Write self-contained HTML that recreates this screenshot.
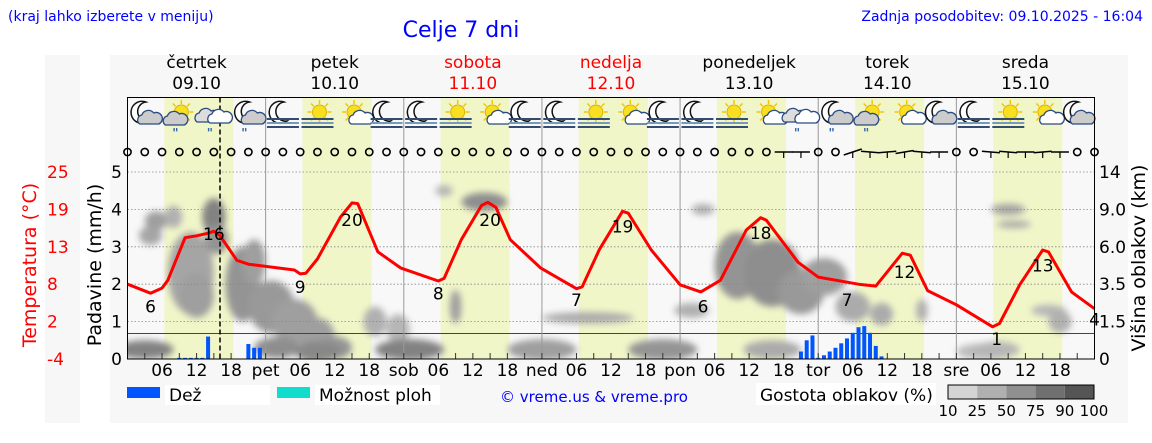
<!DOCTYPE html>
<html><head><meta charset="utf-8"><style>
body{margin:0;background:#fff;width:1152px;height:443px;overflow:hidden;font-family:"Liberation Sans","DejaVu Sans",sans-serif}
svg{position:absolute;left:0;top:0}
text{font-family:"DejaVu Sans","Liberation Sans",sans-serif}
</style></head><body>
<svg id="chart" width="1152" height="443" viewBox="0 0 1152 443" xmlns="http://www.w3.org/2000/svg">
<defs>
<filter id="blur" x="-50%" y="-50%" width="200%" height="200%"><feGaussianBlur stdDeviation="3.5"/></filter>
<clipPath id="plotclip"><rect x="127.5" y="162" width="967" height="197"/></clipPath>
</defs>
<rect x="45" y="55" width="35" height="368" fill="#f7f7f7"/>
<rect x="110" y="55" width="1018" height="368" fill="#f7f7f7"/>
<text x="8" y="21" fill="#0000ff" font-size="14" font-family="Liberation Sans">(kraj lahko izberete v meniju)</text>
<text x="461" y="37" fill="#0000ff" font-size="22" text-anchor="middle" font-family="Liberation Sans">Celje 7 dni</text>
<text x="1143" y="21" fill="#0000ff" font-size="14" text-anchor="end" font-family="Liberation Sans">Zadnja posodobitev: 09.10.2025 - 16:04</text>
<g id="plot"></g>
<text transform="translate(36,265) rotate(-90)" fill="#ff0000" font-size="19" text-anchor="middle">Temperatura (°C)</text>
<text transform="translate(101,265) rotate(-90)" fill="#000" font-size="19" text-anchor="middle">Padavine (mm/h)</text>
<text transform="translate(1145,258) rotate(-90)" fill="#000" font-size="19" text-anchor="middle">Višina oblakov (km)</text>
<g>
<rect x="127" y="387" width="33" height="11" fill="#0055ff"/>
<rect x="165" y="385" width="105" height="20" fill="#fff"/>
<text x="169" y="401" font-size="17">Dež</text>
<rect x="277" y="387" width="33" height="11" fill="#11ddcc"/>
<rect x="315" y="385" width="125" height="20" fill="#fff"/>
<text x="319" y="401" font-size="17">Možnost ploh</text>
<text x="500" y="402" font-size="15" fill="#0000ff" font-family="Liberation Sans">© vreme.us &amp; vreme.pro</text>
<rect x="756" y="383" width="180" height="22" fill="#fff"/>
<text x="760" y="401" font-size="17">Gostota oblakov (%)</text>
<g id="cbar"></g>
</g>
</svg>
<script>
// ---- data ----
const dayNames=["četrtek","petek","sobota","nedelja","ponedeljek","torek","sreda"];
const dayDates=["09.10","10.10","11.10","12.10","13.10","14.10","15.10"];
const dayShort=["","pet","sob","ned","pon","tor","sre"];
const weekend=[false,false,true,true,false,false,false];
const tempHours=[0,4,6,7,10,12,14,15,16,19,21,29,30,31,33,37,39,40,43.5,47.5,54,55,58,61.5,62.6,64,66.5,71.8,78,79,82,86,87,91,96,99.6,103,107.5,110,111,116.5,120,127,130,134.6,136,139,144,150.3,151.5,155,159,160,164,168];
const tempValues=[7.6,6.2,7.0,8.2,14.8,15.1,15.5,15.8,15.2,11.3,10.7,9.8,9.2,9.3,11.5,18,20.2,20.1,12.6,10.1,8.1,8.5,14.5,19.8,20.3,19.5,14.5,10.1,6.9,7.2,13,18.9,18.6,12.9,7.5,6.4,8.2,16,17.9,17.5,11,8.7,7.6,7.3,12.4,12.1,6.6,4.4,1.0,1.5,7.5,12.9,12.6,6.4,3.8];
const tempLabels=[[4,6],[15,16],[30,9],[39,20],[54,8],[63,20],[78,7],[86,19],[100,6],[110,18],[125,7],[135,12],[151,1],[159,13],[168,4]];
const rainHours=[9,10,11,12,13,14,21,22,23,117,118,119,120,121,122,123,124,125,126,127,128,129,130,131];
const rainValues=[0.03,0.03,0.03,0.03,0.03,0.6,0.4,0.3,0.3,0.2,0.5,0.63,0.03,0.1,0.2,0.3,0.42,0.55,0.7,0.85,0.88,0.7,0.35,0.07];
const iconTypes=["moonCloud","sunCloudRain","cloudRain","moonCloudRain","moonFog","sunFog","sunCloud","moonFog","moonFog","sunFog","sunCloud","moonFog","moonFog","sunFog","sunCloud","moonFog","moonFog","sunFog","sunCloud","cloudRain","moonCloudRain","sunCloudRain","sunCloud","moonCloud","moonFog","sunFog","sunCloud","moonCloud"];
const windHours=[114,117,126,129,132,135,138,141,150,153,156,159,162];
const windDirs=[0,0,-20,5,-5,-10,5,0,5,5,0,-5,0];
const cloudHour=[4,5,8,11,12,15,15.5,20,22,25,29,33,36,43,47,55,62,57,80,98,100,106,112,117,121,126,131,138,153,154,160,162,3,26,33,49,72,93,112,149,151];
const cloudLevel=[3.3,3.7,3.8,2.3,1.7,3.8,3.2,2.0,2.6,1.4,1.0,0.6,0.3,1.0,0.8,4.5,4.2,1.4,1.1,1.3,4.0,2.5,2.3,1.8,2.2,1.4,1.2,1.3,4.0,3.6,1.3,1.0,0.25,0.3,0.2,0.25,0.25,0.25,0.25,0.2,0.25];
const cloudWidth=[2,2,1.5,4,3,2,2,3,2,4,4,3,3,2,2,1.5,4,1,8,3,2,4,5,4,4,3,2,1,3,3,3,2,5,4,4,6,6,6,5,5,4];
const cloudHeight=[0.25,0.25,0.3,1.1,0.6,0.5,0.4,1.0,0.6,0.7,0.6,0.5,0.3,0.4,0.4,0.15,0.25,0.45,0.15,0.2,0.15,0.9,0.9,0.6,0.5,0.4,0.3,0.3,0.15,0.1,0.15,0.3,0.25,0.28,0.28,0.28,0.28,0.28,0.25,0.22,0.22];
const cloudDensity=[55,60,45,55,60,85,70,70,60,65,60,60,70,45,40,40,75,60,50,45,45,70,75,65,60,50,50,45,55,50,40,45,85,75,80,85,60,70,50,35,40];
const precipTicks=[0,1,2,3,4,5];
const tempTicks=[25,19,13,8,2,-4];
const cloudTicks=["14","9.0","6.0","3.5","1.5","0"];
const cbarLabels=["10","25","50","75","90","100"];

// ---- axes ----
const X0=127.5,X1=1094.5,PX=(X1-X0)/168;
const xH=h=>X0+h*PX;
const yP=v=>359-v*37.4;
const yT=t=>359-(t+4)*6.45;
const NS="http://www.w3.org/2000/svg";
const plot=document.getElementById('plot');
function mk(tag,attrs,parent){const e=document.createElementNS(NS,tag);for(const k in attrs)e.setAttribute(k,attrs[k]);(parent||plot).appendChild(e);return e;}

mk('rect',{x:X0,y:97.5,width:X1-X0,height:261.5,fill:'#f8f8f8'});
for(let d=0;d<7;d++){
  const b=mk('rect',{x:xH(d*24+6.4),y:97.5,width:12*PX,height:261.5,fill:'#f1f6c9'});
  
  
}
const cg=mk('g',{'clip-path':'url(#plotclip)',filter:'url(#blur)'});
for(let i=0;i<cloudHour.length;i++){
  const g=Math.round(228-cloudDensity[i]*1.15);
  const e=mk('ellipse',{cx:xH(cloudHour[i]),cy:yP(cloudLevel[i]),rx:cloudWidth[i]*PX,ry:cloudHeight[i]*37.4,fill:`rgb(${g},${g},${g})`},cg);
  
  
}
for(const v of precipTicks.slice(1)){
  mk('line',{x1:X0,x2:X1,y1:yP(v),y2:yP(v),stroke:'#888','stroke-width':0.8,'stroke-dasharray':'1.5,2'});
}
mk('line',{x1:X0,x2:X1,y1:333.5,y2:333.5,stroke:'#444','stroke-width':1});
for(let d=1;d<7;d++) mk('line',{x1:xH(d*24),x2:xH(d*24),y1:97.5,y2:359,stroke:'#999','stroke-width':1});
for(let h=3;h<168;h+=3) mk('line',{x1:xH(h),x2:xH(h),y1:359,y2:353,stroke:'#333','stroke-width':1});
for(let i=0;i<rainHours.length;i++){
  const b=mk('rect',{x:xH(rainHours[i])-2,y:yP(rainValues[i]),width:4,height:rainValues[i]*37.4,fill:'#0055ff'});
  
  
}
const nl=mk('line',{x1:xH(16.07),x2:xH(16.07),y1:97.5,y2:359,stroke:'#000','stroke-width':1.5,'stroke-dasharray':'5,3'});


let d='';
for(let i=0;i<tempHours.length;i++){d+=(i?'L':'M')+xH(tempHours[i]).toFixed(1)+','+yT(tempValues[i]).toFixed(1);}
const tl=mk('path',{d:d,fill:'none',stroke:'#ff0000','stroke-width':3,'stroke-linejoin':'round'});


for(const [h,v] of tempLabels){
  const t=mk('text',{x:xH(h),y:(v>=12 && v!==16)?yT(v)+22:(v===16?yT(v)+10:yT(v)+18),'font-size':17,'text-anchor':'middle',fill:'#000'});
  t.textContent=v;
  
  
}
for(let i=0;i<=56;i++){
  const h=i*3;const wi=windHours.indexOf(h);
  if(wi>=0){
    const l=mk('line',{x1:xH(h)-9,x2:xH(h)+9,y1:152-windDirs[wi]*0.15,y2:152+windDirs[wi]*0.15,stroke:'#000','stroke-width':1.5});
    
    
    mk('line',{x1:xH(h),x2:xH(h),y1:152,y2:158,stroke:'#000','stroke-width':1.2});
  } else {
    const c=mk('circle',{cx:xH(h),cy:152,r:3.6,fill:'none',stroke:'#000','stroke-width':1.6});
    
    
  }
}
function sun(g,x,y){for(let a=0;a<8;a++){const r=a*Math.PI/4;mk('line',{x1:x+Math.cos(r)*8,y1:y+Math.sin(r)*8,x2:x+Math.cos(r)*12,y2:y+Math.sin(r)*12,stroke:'#f5c400','stroke-width':1.5},g);}mk('circle',{cx:x,cy:y,r:7,fill:'#f8e020',stroke:'#e0b000'},g);}
function moon(g,x,y){mk('path',{d:`M${x+3},${y-11} A11,11 0 1,0 ${x+6},${y+8} A9,9 0 1,1 ${x+3},${y-11}Z`,fill:'#fff',stroke:'#111','stroke-width':1.5},g);}
function cloud(g,x,y,s,f){mk('path',{d:`M${x-9*s},${y+5*s} a5,5 0 0,1 2,-9 a7,7 0 0,1 12,-2 a5,5 0 0,1 5,11 Z`,fill:f||'#ddd',stroke:'#2a4a80','stroke-width':1.3},g);}
function fog(g,x,y){for(let k=0;k<3;k++)mk('rect',{x:x-16,y:y+k*4,width:32,height:2,fill:k==1?'#7799bb':'#334d70'},g);}
function rain(g,x,y){mk('text',{x:x,y:y,'font-size':12,fill:'#3366aa','text-anchor':'middle','font-weight':'bold'},g).textContent='"';}
iconTypes.forEach((t,i)=>{
  const cx=X0+17.3+i*34.54, cy=115;
  const g=mk('g',{});
  
  
  if(t.startsWith('moon'))moon(g,cx-2,cy-2);
  if(t.startsWith('sun'))sun(g,cx+2,cy-3);
  if(t==='moonCloud'||t==='moonCloudRain')cloud(g,cx+4,cy+4,1,'#ccc');
  if(t==='sunCloud')cloud(g,cx+8,cy+4,1,'#fff');
  if(t==='sunCloudRain')cloud(g,cx-5,cy+5,1,'#ccc');
  if(t==='cloudRain'){cloud(g,cx-6,cy+1,1.2,'#ddd');cloud(g,cx+5,cy+3,1,'#fff');}
  if(t.endsWith('Fog'))fog(g,cx,cy+3);
  if(t.endsWith('Rain'))rain(g,cx-4,cy+22);
});
mk('rect',{x:X0,y:97.5,width:X1-X0,height:261.5,fill:'none',stroke:'#000','stroke-width':1});
for(let i=0;i<7;i++){
  const c=weekend[i]?'#ff0000':'#000';
  const a=mk('text',{x:xH(i*24+12),y:68,'font-size':17,'text-anchor':'middle',fill:c});a.textContent=dayNames[i];
  
  const b=mk('text',{x:xH(i*24+12),y:89,'font-size':17,'text-anchor':'middle',fill:c});b.textContent=dayDates[i];
  
}
for(let h=6;h<168;h+=6){
  const lab=h%24===0?dayShort[h/24]:String(h%24).padStart(2,'0');
  const t=mk('text',{x:xH(h),y:376,'font-size':17,'text-anchor':'middle',fill:'#000'});t.textContent=lab;
  
}
precipTicks.forEach(v=>{const t=mk('text',{x:122,y:yP(v)+6,'font-size':17,'text-anchor':'end'});t.textContent=v;
  });
tempTicks.forEach((v,i)=>{const t=mk('text',{x:47,y:yP(5-i)+6,'font-size':17,fill:'#ff0000'});t.textContent=v;
  });
cloudTicks.forEach((v,i)=>{const t=mk('text',{x:1099,y:yP(5-i)+6,'font-size':17});t.textContent=v;
  });
const cb=document.getElementById('cbar');
const cbCols=['#d4d4d4','#b0b0b0','#909090','#707070','#555555'];
cbCols.forEach((c,i)=>mk('rect',{x:948+i*29.2,y:385,width:29.2,height:14,fill:c},cb));
mk('rect',{x:948,y:385,width:146,height:14,fill:'none',stroke:'#000'},cb);
cbarLabels.forEach((l,i)=>{const t=mk('text',{x:948+i*29.2,y:416,'font-size':15,'text-anchor':'middle',fill:'#000'},cb);t.textContent=l;
  });
</script>
</body></html>
